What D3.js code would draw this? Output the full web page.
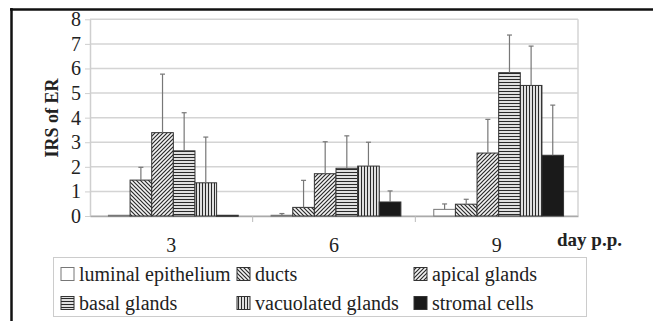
<!DOCTYPE html>
<html>
<head>
<meta charset="utf-8">
<script src="https://cdn.jsdelivr.net/npm/d3@7"></script>
<style>
  body { margin: 0; background: #fff; }
  text { font-family: "Liberation Serif", "Times New Roman", serif; fill: #222; }
</style>
</head>
<body>
<div id="chart-area"></div>
<script>
// day p.p. groups
let days = ["3", "6", "9"];
let seriesNames = ["luminal epithelium", "ducts", "apical glands", "basal glands", "vacuolated glands", "stromal cells"];

// IRS of ER means, one array per series (day 3, 6, 9)
let luminal    = [0.03, 0.03, 0.27];
let ducts      = [1.46, 0.35, 0.48];
let apical     = [3.39, 1.72, 2.56];
let basal      = [2.65, 1.94, 5.83];
let vacuolated = [1.35, 2.03, 5.31];
let stromal    = [0.03, 0.57, 2.47];

// upper end of error bars
let luminalErr    = [0.03, 0.1, 0.49];
let ductsErr      = [1.98, 1.45, 0.68];
let apicalErr     = [5.77, 3.02, 3.93];
let basalErr      = [4.2, 3.26, 7.36];
let vacuolatedErr = [3.21, 3.0, 6.91];
let stromalErr    = [0.03, 1.02, 4.51];

let yTicks = [0, 1, 2, 3, 4, 5, 6, 7, 8];

let means = [luminal, ducts, apical, basal, vacuolated, stromal];
let errs = [luminalErr, ductsErr, apicalErr, basalErr, vacuolatedErr, stromalErr];

let width = 653, height = 321;
let plot = { left: 90, right: 578, top: 19.3, bottom: 216 };

let svg = d3.select("#chart-area")
    .append("svg")
    .attr("width", width)
    .attr("height", height);

// patterns
let defs = svg.append("defs");
function linePattern(id, size, path, sw) {
    let p = defs.append("pattern")
        .attr("id", id)
        .attr("patternUnits", "userSpaceOnUse")
        .attr("width", size)
        .attr("height", size);
    p.append("rect").attr("width", size).attr("height", size).attr("fill", "#f4f4f4");
    p.append("path").attr("d", path).attr("stroke", "#2a2a2a").attr("stroke-width", sw);
}
linePattern("p-ducts", 4, "M-1,-1 L5,5 M-1,3 L1,5 M3,-1 L5,1", 1.2);
linePattern("p-apical", 4, "M-1,5 L5,-1 M-1,1 L1,-1 M3,5 L5,3", 1.2);
linePattern("p-basal", 3, "M0,1.5 L3,1.5", 1.2);
linePattern("p-vac", 3, "M1.5,0 L1.5,3", 1.2);

let fills = ["#fff", "url(#p-ducts)", "url(#p-apical)", "url(#p-basal)", "url(#p-vac)", "#1a1a1a"];

let xScale = d3.scaleBand()
    .domain(days)
    .range([plot.left, plot.right]);

let xInner = d3.scaleBand()
    .domain(seriesNames)
    .range([2, xScale.bandwidth() + 2])
    .paddingOuter(0.76);

let yScale = d3.scaleLinear()
    .domain([0, 8])
    .range([plot.bottom, plot.top]);

// gridlines
svg.append("g")
    .selectAll("line")
    .data(yTicks)
    .enter()
    .append("line")
    .attr("x1", plot.left)
    .attr("x2", plot.right)
    .attr("y1", d => yScale(d))
    .attr("y2", d => yScale(d))
    .attr("stroke", "#d4d4d4")
    .attr("stroke-width", 1.5);

// plot frame right side
svg.append("line")
    .attr("x1", plot.right).attr("x2", plot.right)
    .attr("y1", plot.top).attr("y2", plot.bottom)
    .attr("stroke", "#d4d4d4").attr("stroke-width", 1.5);

// y axis
let yAxis = d3.axisLeft(yScale).tickValues(yTicks).tickSize(5).tickSizeOuter(0);
let yg = svg.append("g")
    .attr("transform", "translate(" + plot.left + ",0)")
    .call(yAxis);
yg.select(".domain").attr("stroke", "#cfcfcf").attr("stroke-width", 1.5);
yg.selectAll(".tick line").attr("stroke", "#cfcfcf");
yg.selectAll(".tick text")
    .attr("font-family", "Liberation Serif")
    .attr("font-size", "20px")
    .attr("fill", "#222")
    .attr("x", -9);

// x axis
let xAxis = d3.axisBottom(xScale).tickSize(0);
let xg = svg.append("g")
    .attr("transform", "translate(0," + plot.bottom + ")")
    .call(xAxis);
xg.select(".domain").attr("stroke", "#aaa").attr("stroke-width", 1.5);
xg.selectAll(".tick text")
    .attr("font-family", "Liberation Serif")
    .attr("font-size", "20px")
    .attr("fill", "#222")
    .attr("dy", 0)
    .attr("y", 36);

// group separator ticks
svg.append("g")
    .selectAll("line")
    .data(days.slice(1))
    .enter()
    .append("line")
    .attr("x1", d => xScale(d))
    .attr("x2", d => xScale(d))
    .attr("y1", plot.bottom)
    .attr("y2", plot.bottom + 6)
    .attr("stroke", "#bbb");

// bars
let barData = [];
seriesNames.forEach(function(s, i) {
    days.forEach(function(d, j) {
        barData.push({ series: s, idx: i, day: d, value: means[i][j], err: errs[i][j] });
    });
});

let bars = svg.append("g");
bars.selectAll("rect")
    .data(barData)
    .enter()
    .append("rect")
    .attr("x", d => xScale(d.day) + xInner(d.series))
    .attr("y", d => yScale(d.value))
    .attr("width", xInner.bandwidth())
    .attr("height", d => Math.max(1, plot.bottom - yScale(d.value)))
    .attr("fill", d => fills[d.idx])
    .attr("stroke", d => d.idx === 0 ? "#777" : "#333")
    .attr("stroke-width", 1);

// error bars (upper only)
let eb = svg.append("g").attr("stroke", "#777").attr("stroke-width", 1.2);
barData.filter(d => d.err > d.value + 0.02).forEach(function(d) {
    let cx = xScale(d.day) + xInner(d.series) + xInner.bandwidth() / 2;
    eb.append("line")
        .attr("x1", cx).attr("x2", cx)
        .attr("y1", yScale(d.value)).attr("y2", yScale(d.err));
    eb.append("line")
        .attr("x1", cx - 2.5).attr("x2", cx + 2.5)
        .attr("y1", yScale(d.err)).attr("y2", yScale(d.err));
});

// Y LABEL
svg.append("text")
    .attr("transform", "translate(52,118) rotate(-90)")
    .attr("text-anchor", "middle")
    .attr("dominant-baseline", "central")
    .attr("font-size", "18px")
    .attr("font-weight", "bold")
    .text("IRS of ER");

// X LABEL
svg.append("text")
    .attr("x", 557)
    .attr("y", 246)
    .attr("font-size", "19px")
    .attr("font-weight", "bold")
    .text("day p.p.");

// legend
let legend = svg.append("g");
legend.append("rect")
    .attr("x", 53.5).attr("y", 257.5)
    .attr("width", 533).attr("height", 59)
    .attr("fill", "#fff")
    .attr("stroke", "#ccc");

let colX = [61, 237, 414];
let rowY = [274, 303];
seriesNames.forEach(function(s, i) {
    let x = colX[i % 3], y = rowY[Math.floor(i / 3)];
    legend.append("rect")
        .attr("x", x).attr("y", y - 6.5)
        .attr("width", 13).attr("height", 13)
        .attr("fill", fills[i])
        .attr("stroke", i === 0 ? "#777" : "#333");
    legend.append("text")
        .attr("x", x + 18)
        .attr("y", y)
        .attr("dominant-baseline", "central")
        .attr("font-size", "20px")
        .text(s);
});

// outer frame (top and left edges)
svg.append("line")
    .attr("x1", 10).attr("x2", width)
    .attr("y1", 9.5).attr("y2", 9.5)
    .attr("stroke", "#111").attr("stroke-width", 2.5);
svg.append("line")
    .attr("x1", 11.5).attr("x2", 11.5)
    .attr("y1", 8).attr("y2", height)
    .attr("stroke", "#111").attr("stroke-width", 2.5);
</script>
</body>
</html>
